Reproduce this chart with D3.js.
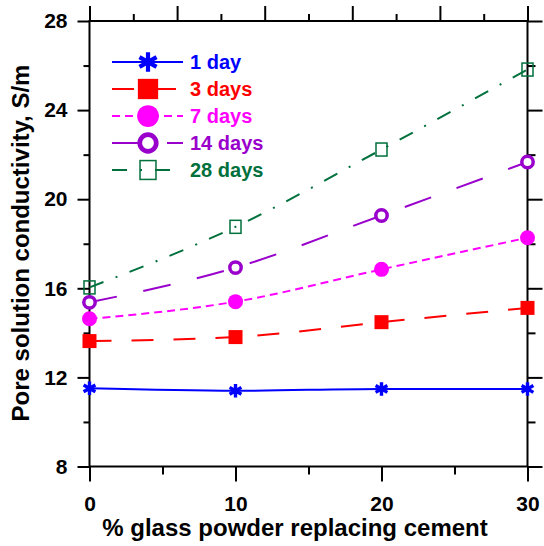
<!DOCTYPE html>
<html>
<head>
<meta charset="utf-8">
<script src="https://cdn.jsdelivr.net/npm/d3@7"></script>
<style>
  body { margin: 0; background: #fff; }
  text { font-family: Arial, "Liberation Sans", sans-serif; font-weight: bold; }
</style>
</head>
<body>
<div id="chart"></div>
<script>

// values
var pct = [0, 10, 20, 30];
var day1 = [11.51, 11.40, 11.48, 11.48];
var day3 = [13.63, 13.81, 14.48, 15.12];
var day7 = [14.63, 15.40, 16.85, 18.27];
var day14 = [15.37, 16.93, 19.27, 21.67];
var day28 = [16.04, 18.76, 22.23, 25.82];
var seriesNames = ["1 day", "3 days", "7 days", "14 days", "28 days"];

var xMajor = [0, 10, 20, 30];
var xMinor = [5, 15, 25];
var topMajor = [0, 6, 12, 18, 24, 30];
var topMinor = [3, 9, 15, 21, 27];
var yMajor = [8, 12, 16, 20, 24, 28];
var yMinor = [10, 14, 18, 22, 26];

const width = 544;
const height = 546;

var x = d3.scaleLinear().domain([0, 30]).range([89.5, 527.5]);
var y = d3.scaleLinear().domain([8, 28]).range([466.5, 21]);

// look of each series
var styles = [
  {color: "#0000ff", dash: null, mark: "star"},
  {color: "#ff0000", dash: "22,20", mark: "square"},
  {color: "#ff00ff", dash: "8,5", mark: "dot"},
  {color: "#9900cc", dash: "28,27", mark: "ring"},
  {color: "#00703c", dash: "15,13,2,13", mark: "box"}
];

var data = [day1, day3, day7, day14, day28].map(function(vals, i) {
  return {
    name: seriesNames[i],
    style: styles[i],
    points: vals.map(function(v, j) { return {x: pct[j], y: v}; })
  };
});

const svg = d3.select("#chart")
  .append("svg")
  .attr("width", width)
  .attr("height", height);

// axes: majors and minors on all four sides
function axisGroup(axis, tr) {
  var g = svg.append("g").attr("transform", tr).call(axis);
  g.select(".domain").remove();
  g.selectAll("line").attr("stroke", "#000").attr("stroke-width", 2);
  return g;
}

var left = axisGroup(d3.axisLeft(y).tickValues(yMajor).tickSize(12).tickPadding(10).tickFormat(d3.format("d")), "translate(" + x(0) + ",0)");
left.selectAll("text").attr("font-size", 21).attr("fill", "#000").attr("font-family", "Arial, 'Liberation Sans', sans-serif");
axisGroup(d3.axisLeft(y).tickValues(yMinor).tickSize(6).tickFormat(""), "translate(" + x(0) + ",0)");

var bottom = axisGroup(d3.axisBottom(x).tickValues(xMajor).tickSize(15).tickFormat(d3.format("d")), "translate(0," + y(8) + ")");
bottom.selectAll("text")
  .attr("y", 44).attr("dy", null)
  .attr("font-size", 21).attr("fill", "#000").attr("font-family", "Arial, 'Liberation Sans', sans-serif");
axisGroup(d3.axisBottom(x).tickValues(xMinor).tickSize(8).tickFormat(""), "translate(0," + y(8) + ")");

axisGroup(d3.axisTop(x).tickValues(topMajor).tickSize(15).tickFormat(""), "translate(0," + y(28) + ")");
axisGroup(d3.axisTop(x).tickValues(topMinor).tickSize(7).tickFormat(""), "translate(0," + y(28) + ")");

axisGroup(d3.axisRight(y).tickValues(yMajor).tickSize(15).tickFormat(""), "translate(" + x(30) + ",0)");
axisGroup(d3.axisRight(y).tickValues(yMinor).tickSize(8).tickFormat(""), "translate(" + x(30) + ",0)");

// frame
svg.append("rect")
  .attr("x", x(0)).attr("y", y(28))
  .attr("width", x(30) - x(0)).attr("height", y(8) - y(28))
  .attr("fill", "none").attr("stroke", "#000").attr("stroke-width", 2);

// axis titles
svg.append("text")
  .attr("x", 295).attr("y", 536)
  .attr("text-anchor", "middle")
  .attr("font-size", 24)
  .text("% glass powder replacing cement");

svg.append("text")
  .attr("transform", "translate(29,243) rotate(-90)")
  .attr("text-anchor", "middle")
  .attr("font-size", 24)
  .text("Pore solution conductivity, S/m");

// markers
function drawMark(g, mark, color, big) {
  var k = big ? 1.45 : 1;
  if (mark == "star") {
    g.append("path")
      .attr("d", d3.symbol().type(d3.symbolAsterisk).size(130 * k * k)())
      .attr("fill", "none").attr("stroke", color).attr("stroke-width", big ? 4.2 : 3.4);
  } else if (mark == "square") {
    g.append("rect")
      .attr("x", -7 * k).attr("y", -7 * k).attr("width", 14 * k).attr("height", 14 * k)
      .attr("fill", color);
  } else if (mark == "dot") {
    g.append("circle").attr("r", 7.5 * k).attr("fill", color);
  } else if (mark == "ring") {
    g.append("circle").attr("r", 5.7 * k)
      .attr("fill", "#fff").attr("stroke", color).attr("stroke-width", 3.5 * (big ? 1.35 : 1));
  } else if (mark == "box") {
    g.append("rect")
      .attr("x", -5.5 * k).attr("y", -6.5 * k).attr("width", 11 * k).attr("height", 13 * k)
      .attr("fill", "none").attr("stroke", color).attr("stroke-width", 1.5);
  }
}

var line = d3.line()
  .x(function(d) { return x(d.x); })
  .y(function(d) { return y(d.y); })
  .curve(d3.curveMonotoneX);

var series = svg.selectAll(".series")
  .data(data)
  .enter()
  .append("g")
  .attr("class", "series");

series.append("path")
  .attr("d", function(d) { return line(d.points); })
  .attr("fill", "none")
  .attr("stroke", function(d) { return d.style.color; })
  .attr("stroke-width", 2)
  .attr("stroke-dasharray", function(d) { return d.style.dash; });

series.each(function(d) {
  var s = d3.select(this);
  d.points.forEach(function(p) {
    var g = s.append("g").attr("transform", "translate(" + x(p.x) + "," + y(p.y) + ")");
    drawMark(g, d.style.mark, d.style.color, false);
  });
});

// legend
var legend = svg.selectAll(".legend")
  .data(data)
  .enter()
  .append("g")
  .attr("class", "legend")
  .attr("transform", function(d, i) { return "translate(0," + (62 + i * 27) + ")"; });

legend.append("line")
  .attr("x1", 112).attr("x2", 183)
  .attr("stroke", function(d) { return d.style.color; })
  .attr("stroke-width", 2)
  .attr("stroke-dasharray", function(d) { return d.style.dash; });

legend.each(function(d) {
  var g = d3.select(this).append("g").attr("transform", "translate(148,0)");
  drawMark(g, d.style.mark, d.style.color, true);
});

legend.append("text")
  .attr("x", 190).attr("y", 7)
  .attr("font-size", 20)
  .attr("fill", function(d) { return d.style.color; })
  .text(function(d) { return d.name; });

</script>
</body>
</html>
